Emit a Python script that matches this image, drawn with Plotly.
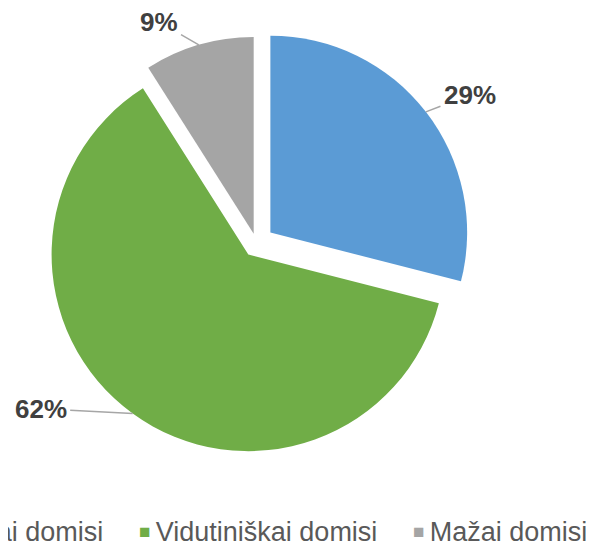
import math
import plotly.graph_objects as go

# data
labels = ["Labai domisi", "Vidutiniškai domisi", "Mažai domisi"]
values = [29, 62, 9]
colors = ["#5B9BD5", "#70AD47", "#A5A5A5"]
pulls = [0.09, 0.07, 0.05]

W, H = 594, 544
dom_x = [0.0572, 0.7792]
dom_y = [0.1725, 0.9625]
FONT = "Arial, Liberation Sans, sans-serif"

fig = go.Figure(go.Pie(
    labels=labels, values=values, sort=False, direction="clockwise", rotation=0,
    pull=pulls, marker=dict(colors=colors, line=dict(width=0)),
    textinfo="none", showlegend=False,
    domain=dict(x=dom_x, y=dom_y),
))

# pie geometry (same as plotly's own layout of the pie) for label leader lines
box_w = (dom_x[1] - dom_x[0]) * W
box_h = (dom_y[1] - dom_y[0]) * H
r = min(box_w, box_h) / 2 / (1 + max(pulls))
cx = W * sum(dom_x) / 2
cy = H * (1 - sum(dom_y) / 2)

# label offsets from the slice edge (pixels)
label_offsets = [(44, -17), (-92, -5), (-40, -23)]

total = sum(values)
start = 0
annotations = []
for v, p, (ax, ay) in zip(values, pulls, label_offsets):
    mid = (start + v / 2) / total * 2 * math.pi
    start += v
    d = r * (1 + p)
    px = cx + d * math.sin(mid)
    py = cy - d * math.cos(mid)
    annotations.append(dict(
        x=px / W, y=1 - py / H, xref="paper", yref="paper",
        text=f"<b>{round(v / total * 100)}%</b>",
        showarrow=True, ax=ax, ay=ay, arrowhead=0, arrowwidth=1.5,
        arrowcolor="#A6A6A6", standoff=0, startstandoff=2,
        font=dict(family=FONT, size=26, color="#404040"),
    ))

# legend drawn as text (the left entry is cut off by the edge of the picture)
legend_x = [-0.1256, 0.2172, 0.6785]
for lab, c, lx in zip(labels, colors, legend_x):
    annotations.append(dict(
        x=lx, y=0.037, xref="paper", yref="paper", xanchor="left", yanchor="middle",
        showarrow=False,
        text=f"<span style='color:{c};font-size:19px;baseline-shift:3px'>■ </span>{lab}",
        font=dict(family=FONT, size=27, color="#595959"),
    ))

fig.update_layout(
    width=W, height=H,
    margin=dict(l=0, r=0, t=0, b=0),
    paper_bgcolor="white", plot_bgcolor="white",
    annotations=annotations,
)

fig.write_html("out.html")
